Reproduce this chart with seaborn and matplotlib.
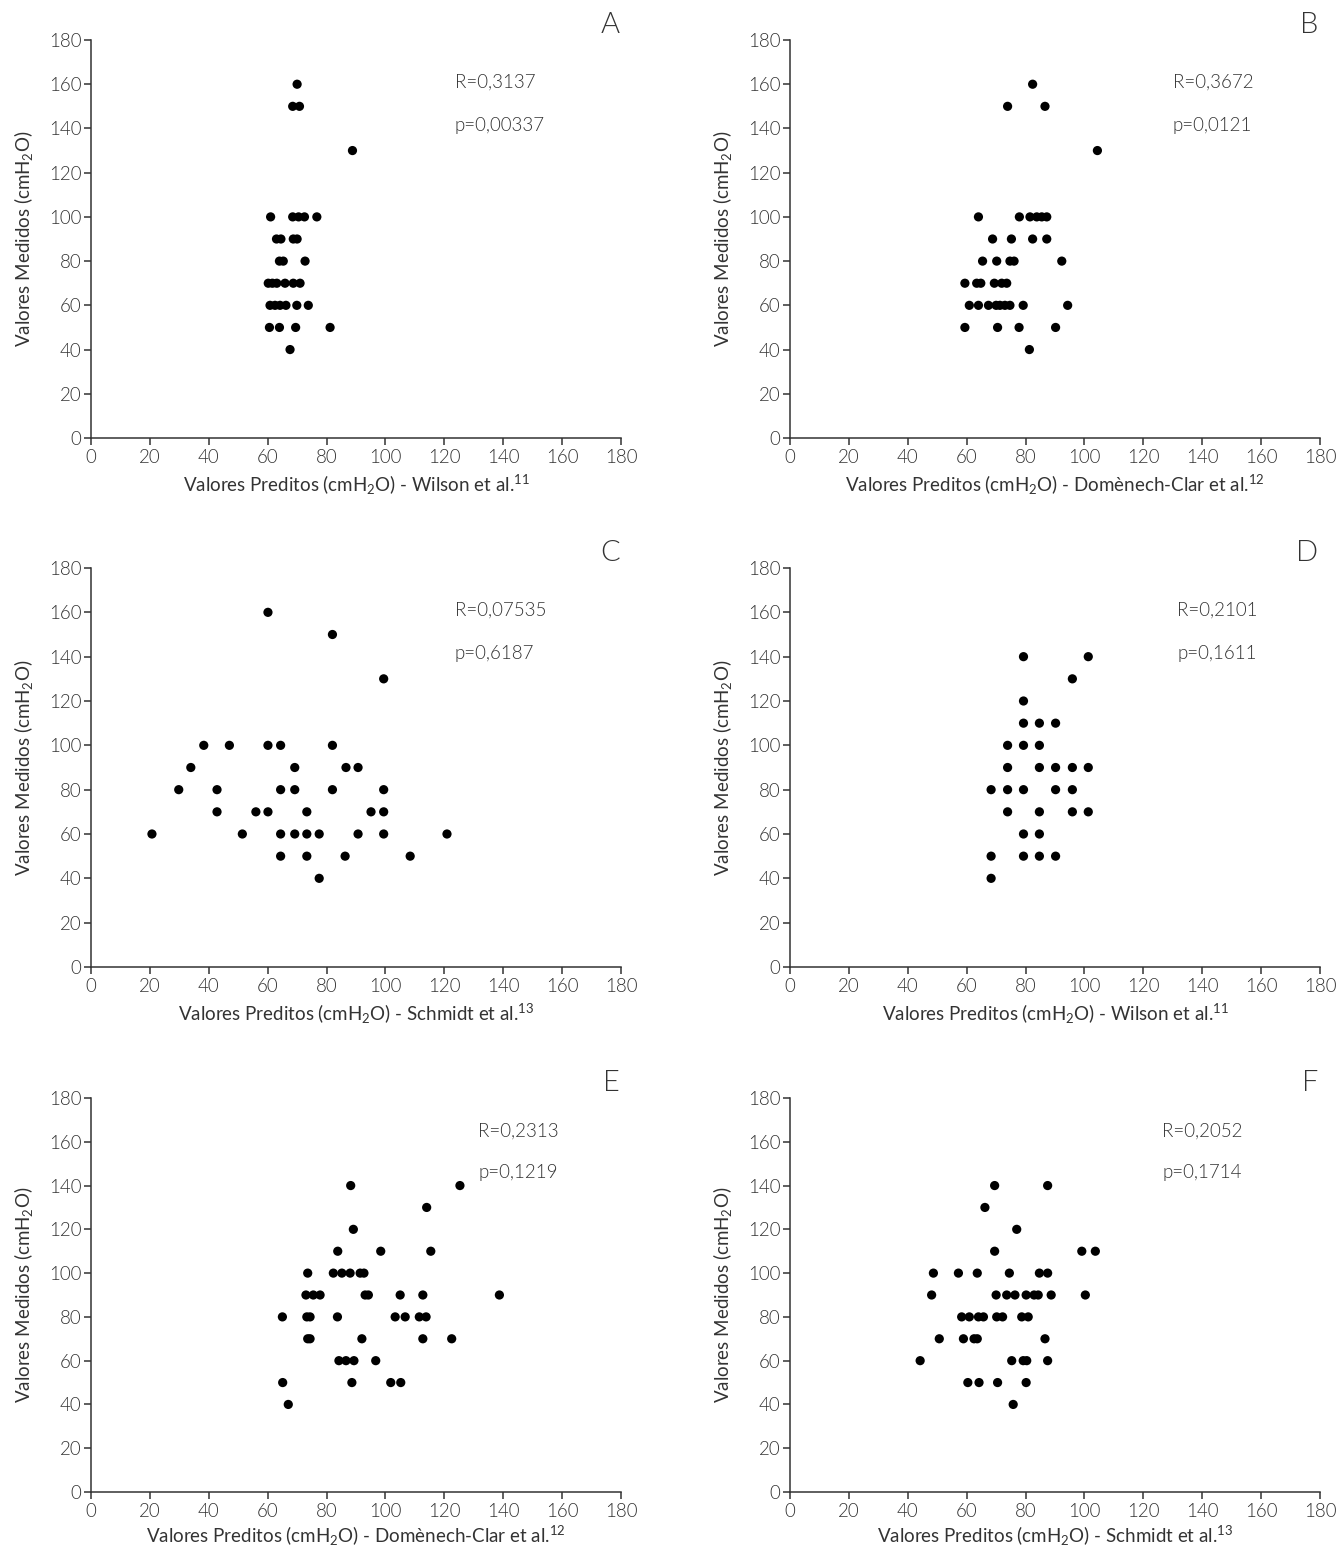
import matplotlib
matplotlib.use("Agg")
import matplotlib.pyplot as plt
import seaborn as sns
import pandas as pd

# ---- data ----
a_x = [70, 68.5, 70.8, 88.8,
       61, 68.5, 70.5, 72.5, 76.7,
       63, 64.5, 68.7, 70,
       64, 65.3, 72.7,
       60.2, 61.6, 63.1, 65.9, 68.7, 71,
       60.8, 62.5, 64.2, 66.2, 69.9, 73.8,
       60.6, 64, 69.5, 81.2,
       67.6]
a_y = [160, 150, 150, 130,
       100, 100, 100, 100, 100,
       90, 90, 90, 90,
       80, 80, 80,
       70, 70, 70, 70, 70, 70,
       60, 60, 60, 60, 60, 60,
       50, 50, 50, 50,
       40]

b_x = [82.4, 73.9, 86.6, 104.4,
       64, 77.9, 81.5, 83.8, 85.5, 87.2,
       68.8, 75.2, 82.4, 87.2,
       65.4, 70.2, 74.7, 76.1, 92.3,
       59.4, 63.4, 64.8, 69.4, 71.9, 73.6,
       60.9, 64, 67.4, 70, 71.3, 73, 74.7, 79.2, 94.3,
       59.4, 70.5, 77.8, 90.2,
       81.3]
b_y = [160, 150, 150, 130,
       100, 100, 100, 100, 100, 100,
       90, 90, 90, 90,
       80, 80, 80, 80, 80,
       70, 70, 70, 70, 70, 70,
       60, 60, 60, 60, 60, 60, 60, 60, 60,
       50, 50, 50, 50,
       40]

c_x = [60.1, 82, 99.4,
       38.3, 47, 60.1, 64.4, 82,
       33.9, 69.2, 86.6, 90.7,
       29.8, 42.8, 64.4, 69.2, 82, 99.4,
       42.8, 56, 60.1, 73.3, 95.1, 99.4,
       20.7, 51.4, 64.4, 69.2, 73.3, 77.5, 90.7, 99.4, 120.9,
       64.4, 73.3, 86.3, 108.4,
       77.5]
c_y = [160, 150, 130,
       100, 100, 100, 100, 100,
       90, 90, 90, 90,
       80, 80, 80, 80, 80, 80,
       70, 70, 70, 70, 70, 70,
       60, 60, 60, 60, 60, 60, 60, 60, 60,
       50, 50, 50, 50,
       40]

d_x = [79.3, 101.3, 95.9, 79.3,
       79.3, 84.7, 90.2,
       73.9, 79.3, 84.7,
       73.9, 84.7, 90.2, 95.9, 101.3,
       68.3, 73.9, 79.3, 90.2, 95.9,
       73.9, 84.7, 95.9, 101.3,
       79.3, 84.7,
       68.3, 79.3, 84.7, 90.2,
       68.3]
d_y = [140, 140, 130, 120,
       110, 110, 110,
       100, 100, 100,
       90, 90, 90, 90, 90,
       80, 80, 80, 80, 80,
       70, 70, 70, 70,
       60, 60,
       50, 50, 50, 50,
       40]

e_x = [88.2, 125.3, 114, 89.1,
       83.8, 98.4, 115.4,
       73.6, 82.3, 85.2, 88, 91.4, 92.7,
       73, 75.5, 77.8, 93.1, 94.2, 105, 112.7, 138.7,
       65, 73.3, 74.4, 83.7, 103.3, 106.7, 111.5, 113.8,
       73.6, 74.4, 92, 112.7, 122.5,
       84.2, 86.6, 89.3, 96.7,
       65.1, 88.6, 101.8, 105.2,
       67]
e_y = [140, 140, 130, 120,
       110, 110, 110,
       100, 100, 100, 100, 100, 100,
       90, 90, 90, 90, 90, 90, 90, 90,
       80, 80, 80, 80, 80, 80, 80, 80,
       70, 70, 70, 70, 70,
       60, 60, 60, 60,
       50, 50, 50, 50,
       40]

f_x = [69.5, 87.5, 66.2, 77,
       69.5, 99.1, 103.7,
       48.7, 57.2, 63.6, 74.5, 84.7, 87.5,
       48.1, 70, 73.6, 76.4, 80.2, 82.9, 84.3, 88.7, 100.3,
       58.3, 60.9, 64, 65.7, 70.2, 72.2, 78.7, 80.9,
       50.7, 58.9, 62.5, 63.6, 86.6,
       44.2, 75.3, 79.2, 80.4, 87.5,
       60.4, 64.2, 70.5, 80.2,
       75.8]
f_y = [140, 140, 130, 120,
       110, 110, 110,
       100, 100, 100, 100, 100, 100,
       90, 90, 90, 90, 90, 90, 90, 90, 90,
       80, 80, 80, 80, 80, 80, 80, 80,
       70, 70, 70, 70, 70,
       60, 60, 60, 60, 60,
       50, 50, 50, 50,
       40]

panel_letters = ["A", "B", "C", "D", "E", "F"]
r_texts = ["R=0,3137", "R=0,3672", "R=0,07535", "R=0,2101", "R=0,2313", "R=0,2052"]
p_texts = ["p=0,00337", "p=0,0121", "p=0,6187", "p=0,1611", "p=0,1219", "p=0,1714"]
sources = ["Wilson et al.", "Domènech-Clar et al.", "Schmidt et al.",
           "Wilson et al.", "Domènech-Clar et al.", "Schmidt et al."]
refs = ["11", "12", "13", "11", "12", "13"]
ticks = [0, 20, 40, 60, 80, 100, 120, 140, 160, 180]
# text anchor positions in data units (x of R/p text, y of R text, y of p text)
txt_pos = [(123.5, 161, 141.5), (130, 161, 141.5), (123.5, 161, 141.5),
           (131.5, 161, 141.5), (131.5, 165, 146), (126.5, 165, 146)]

xs = [a_x, b_x, c_x, d_x, e_x, f_x]
ys = [a_y, b_y, c_y, d_y, e_y, f_y]

df = pd.concat([pd.DataFrame({"pred": x, "med": y, "panel": l})
                for x, y, l in zip(xs, ys, panel_letters)], ignore_index=True)

sns.set_theme(style="ticks")
plt.rcParams["font.family"] = ["Lato", "DejaVu Sans"]
plt.rcParams["font.weight"] = 300
plt.rcParams["mathtext.fontset"] = "custom"
plt.rcParams["mathtext.rm"] = "Lato:weight=300"
plt.rcParams["mathtext.default"] = "regular"

W, H = 1342, 1553
fig = plt.figure(figsize=(W / 100, H / 100), dpi=100)

lefts = [91, 790]
rows = [(40, 438), (568, 967), (1098, 1492)]
txt_color = "#333333"
fs = 13.5

for i, letter in enumerate(panel_letters):
    r, c = divmod(i, 2)
    top, bot = rows[r]
    l = lefts[c]
    ax = fig.add_axes([l / W, 1 - bot / H, 530 / W, (bot - top) / H])
    sub = df[df["panel"] == letter]
    sns.scatterplot(data=sub, x="pred", y="med", ax=ax, color="black",
                    s=44, edgecolor="none", linewidth=0)
    ax.set_xlim(0, 180)
    ax.set_ylim(0, 180)
    ax.set_xticks(ticks)
    ax.set_yticks(ticks)
    ax.tick_params(axis="both", direction="out", length=5, width=1.1,
                   colors="#333333", labelsize=fs, labelcolor=txt_color, pad=2)
    ax.tick_params(axis="x", pad=3)
    for s in ["top", "right"]:
        ax.spines[s].set_visible(False)
    for s in ["left", "bottom"]:
        ax.spines[s].set_color("#333333")
        ax.spines[s].set_linewidth(1.1)
    ax.set_xlabel("Valores Preditos (cmH$_2$O) - " + sources[i]
                  + "$^{\\mathregular{" + refs[i] + "}}$",
                  fontsize=fs, color=txt_color, labelpad=5 if r < 2 else 3)
    ax.set_ylabel("Valores Medidos (cmH$_2$O)", fontsize=fs,
                  color=txt_color, labelpad=10)
    tx, ry, py = txt_pos[i]
    ax.text(tx, ry, r_texts[i], fontsize=fs, color=txt_color, va="center")
    ax.text(tx, py, p_texts[i], fontsize=fs, color=txt_color, va="center")
    ax.text(179.5, 181, letter, fontsize=21, color=txt_color,
            ha="right", va="bottom", clip_on=False)

fig.savefig("out.png", dpi=100, facecolor="white")
